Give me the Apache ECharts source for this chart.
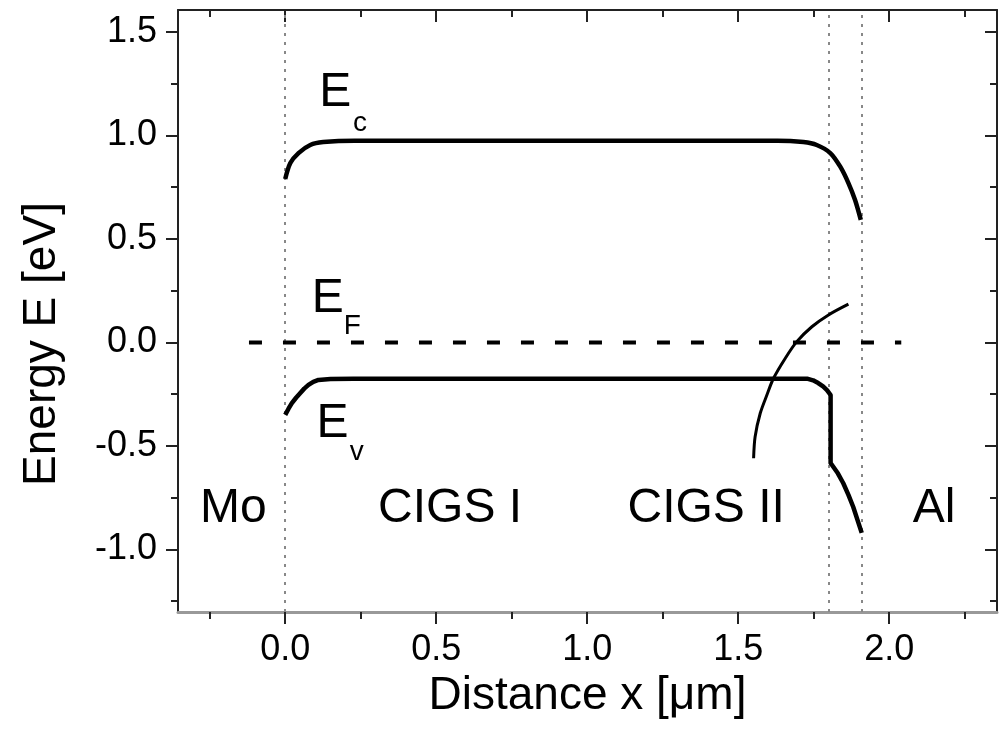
<!DOCTYPE html>
<html>
<head>
<meta charset="utf-8">
<script src="https://cdn.jsdelivr.net/npm/echarts@6/dist/echarts.min.js"></script>
<style>
html,body{margin:0;padding:0;background:#fff;}
#chart{width:1000px;height:735px;}
</style>
</head>
<body>
<div id="chart"></div>
<script>
// ---- data ----
const xMajorTicks = [0.0, 0.5, 1.0, 1.5, 2.0];
const xMinorTicks = [-0.25, 0.25, 0.75, 1.25, 1.75, 2.25];
const yMajorTicks = [-1.0, -0.5, 0.0, 0.5, 1.0, 1.5];
const yMinorTicks = [-1.25, -0.75, -0.25, 0.25, 0.75, 1.25];

const ecX = [0.0, 0.017, 0.044, 0.083, 0.126, 0.23, 1.63, 1.716, 1.76, 1.805, 1.838, 1.865, 1.887, 1.906];
const ecY = [0.79, 0.867, 0.915, 0.954, 0.968, 0.975, 0.975, 0.968, 0.954, 0.915, 0.849, 0.77, 0.688, 0.592];

const evX = [0.0, 0.011, 0.022, 0.036, 0.05, 0.063, 0.077, 0.093, 0.11, 0.15, 0.226, 1.728, 1.748, 1.765, 1.781, 1.794, 1.806, 1.806, 1.81, 1.83, 1.848, 1.865, 1.881, 1.909];
const evY = [-0.35, -0.32, -0.293, -0.267, -0.244, -0.223, -0.205, -0.19, -0.181, -0.177, -0.175, -0.175, -0.183, -0.196, -0.212, -0.23, -0.254, -0.582, -0.59, -0.632, -0.68, -0.736, -0.795, -0.92];

const arcX = [1.551, 1.556, 1.573, 1.595, 1.617, 1.656, 1.694, 1.744, 1.799, 1.865];
const arcY = [-0.559, -0.455, -0.342, -0.254, -0.173, -0.076, 0.004, 0.076, 0.133, 0.185];

const efX = [-0.12, 2.04];
const efY = [0.0, 0.0];

const boundaries = [0.0, 1.8, 1.91];

const regionNames = ['Mo', 'CIGS I', 'CIGS II', 'Al'];
const regionX = [-0.172, 0.546, 1.394, 2.149];
const regionY = [-0.804, -0.804, -0.804, -0.804];

const bandMain = ['E', 'E', 'E'];
const bandMainX = [0.166, 0.141, 0.157];
const bandMainY = [1.204, 0.213, -0.391];
const bandSub = ['c', 'F', 'v'];
const bandSubX = [0.248, 0.222, 0.237];
const bandSubY = [1.06, 0.08, -0.531];

// ---- chart ----
const FONT = '"Liberation Sans", Arial, sans-serif';
const zip = (a, b) => a.map((v, i) => [v, b[i]]);
const X_MIN = -0.355, X_MAX = 2.357, Y_MIN = -1.302, Y_MAX = 1.606;
const AX = '#222';

function xAx(pos, values, len, inside, labels, line, lineColor) {
  return {
    type: 'value', position: pos, min: X_MIN, max: X_MAX,
    axisLine: {show: line, onZero: false, lineStyle: {color: lineColor || AX, width: lineColor ? 3 : 2}},
    axisTick: {show: true, inside: inside, length: len, customValues: values, lineStyle: {color: AX, width: 2}},
    axisLabel: {show: labels, customValues: values, margin: 20, color: '#000', fontSize: 36, fontFamily: FONT,
      formatter: v => v.toFixed(1)},
    splitLine: {show: false}
  };
}
function yAx(pos, values, len, inside, labels, line) {
  return {
    type: 'value', position: pos, min: Y_MIN, max: Y_MAX,
    axisLine: {show: line, onZero: false, lineStyle: {color: AX, width: 2}},
    axisTick: {show: true, inside: inside, length: len, customValues: values, lineStyle: {color: AX, width: 2}},
    axisLabel: {show: labels, customValues: values, margin: 21, color: '#000', fontSize: 36, fontFamily: FONT,
      formatter: v => v.toFixed(1)},
    splitLine: {show: false}
  };
}

const xAxes = [
  Object.assign(xAx('bottom', xMajorTicks, 12, false, true, true, '#999'), {
    name: 'Distance x [\u03bcm]', nameLocation: 'middle', nameGap: 54,
    nameTextStyle: {fontSize: 46, color: '#000', fontFamily: FONT}
  }),
  xAx('bottom', xMinorTicks, 7, false, false, false),
  xAx('top', xMajorTicks, 12, true, false, true),
  xAx('top', xMinorTicks, 7, true, false, false)
];
const yAxes = [
  Object.assign(yAx('left', yMajorTicks, 12, false, true, true), {
    name: 'Energy E [eV]', nameLocation: 'middle', nameGap: 113,
    nameTextStyle: {fontSize: 46, color: '#000', fontFamily: FONT, padding: [0, 66, 0, 0]}
  }),
  yAx('left', yMinorTicks, 7, false, false, false),
  yAx('right', yMajorTicks, 12, true, false, true),
  yAx('right', yMinorTicks, 7, true, false, false)
];

const lineBase = {type: 'line', showSymbol: false, symbol: 'none', silent: true, animation: false, xAxisIndex: 0, yAxisIndex: 0, z: 5};
const textLabel = (size) => ({show: true, position: 'inside', formatter: p => p.name,
  fontSize: size, color: '#000', opacity: 1, fontFamily: FONT, textBorderWidth: 0, textBorderColor: 'transparent', textShadowBlur: 0});

const option = {
  backgroundColor: '#fff',
  animation: false,
  grid: {left: 178, right: 3, top: 10, bottom: 123, containLabel: false},
  xAxis: xAxes,
  yAxis: yAxes,
  series: [
    Object.assign({}, lineBase, {
      name: 'boundaries', data: [], z: 1,
      markLine: {
        silent: true, symbol: 'none', animation: false, z: 1,
        label: {show: false},
        lineStyle: {color: '#888', width: 2, type: [3, 6]},
        data: boundaries.map(b => ({xAxis: b}))
      }
    }),
    Object.assign({}, lineBase, {
      name: 'EF', data: zip(efX, efY),
      lineStyle: {color: '#000', width: 4, type: [13, 21]}
    }),
    Object.assign({}, lineBase, {
      name: 'Ec', data: zip(ecX, ecY), smooth: 0.3,
      lineStyle: {color: '#000', width: 4.5}
    }),
    Object.assign({}, lineBase, {
      name: 'Ev', data: zip(evX, evY),
      lineStyle: {color: '#000', width: 4.5, join: 'round'}
    }),
    Object.assign({}, lineBase, {
      name: 'arc', data: zip(arcX, arcY), smooth: 0.3,
      lineStyle: {color: '#000', width: 3}
    }),
    {
      type: 'scatter', name: 'regions', silent: true, symbolSize: 0, z: 6,
      itemStyle: {color: '#000', opacity: 1},
      data: regionNames.map((n, i) => ({value: [regionX[i], regionY[i]], name: n})),
      label: textLabel(48)
    },
    {
      type: 'scatter', name: 'bandMain', silent: true, symbolSize: 0, z: 6,
      itemStyle: {color: '#000', opacity: 1},
      data: bandMain.map((n, i) => ({value: [bandMainX[i], bandMainY[i]], name: n})),
      label: textLabel(48)
    },
    {
      type: 'scatter', name: 'bandSub', silent: true, symbolSize: 0, z: 6,
      itemStyle: {color: '#000', opacity: 1},
      data: bandSub.map((n, i) => ({value: [bandSubX[i], bandSubY[i]], name: n})),
      label: textLabel(28)
    }
  ]
};

const chart = echarts.init(document.getElementById('chart'), null, {renderer: 'canvas'});
chart.setOption(option);
</script>
</body>
</html>
